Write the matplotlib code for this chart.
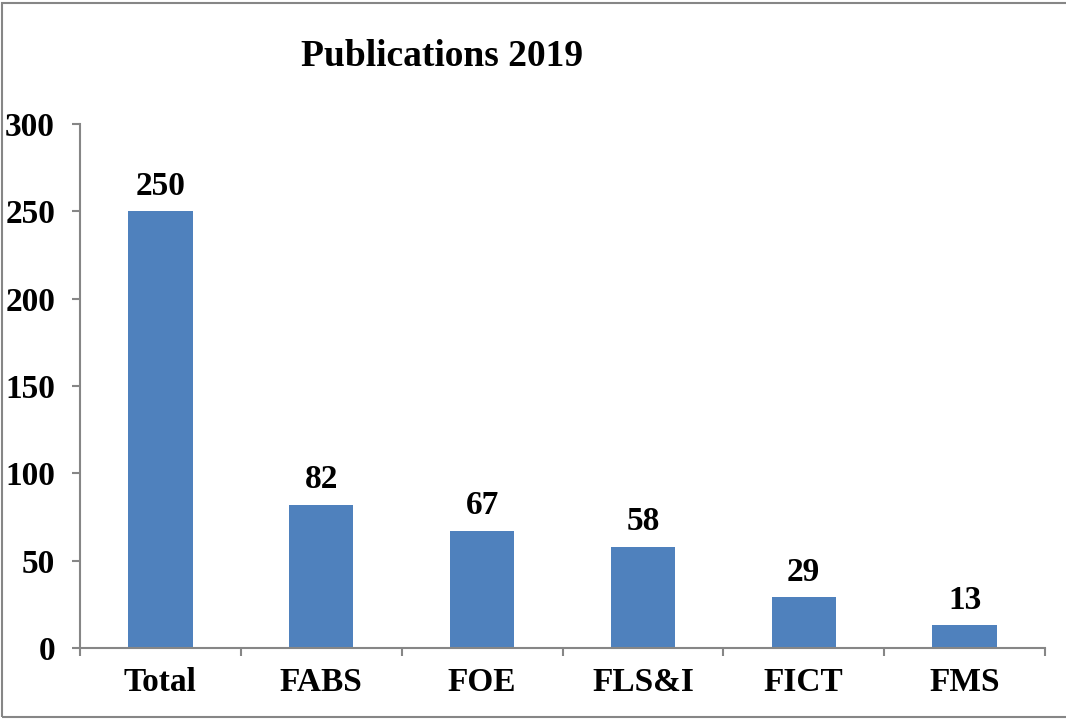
import matplotlib
matplotlib.use("Agg")
import matplotlib.pyplot as plt
from matplotlib.patches import Rectangle

categories = ["Total", "FABS", "FOE", "FLS&I", "FICT", "FMS"]
values = [250, 82, 67, 58, 29, 13]
yticks = [0, 50, 100, 150, 200, 250, 300]
title = "Publications 2019"

W, H = 1066, 719
fig = plt.figure(figsize=(W/100, H/100), dpi=100)
plt.rcParams['font.family'] = ['Liberation Serif', 'DejaVu Serif']

x0, x1 = 80, 1045
y0, y1 = 648, 124
ax = fig.add_axes([x0/W, 1-y0/H, (x1-x0)/W, (y0-y1)/H])

axc = "#868686"
fs = 24
xs = list(range(len(categories)))
ax.bar(xs, values, width=0.4, color="#4F81BD", zorder=2)
ax.set_xlim(-0.5, len(categories)-0.5)
ax.set_ylim(0, 300)
ax.set_yticks(yticks)
ax.set_yticklabels([str(t) for t in yticks], fontsize=fs, fontweight='bold')
ax.set_xticks(xs)
ax.set_xticklabels(categories, fontsize=fs, fontweight='bold')
ax.tick_params(axis='x', length=0, pad=14)
ax.tick_params(axis='y', length=6, width=1.5, color=axc, pad=12)
ax.set_xticks([i-0.5 for i in range(len(categories)+1)], minor=True)
ax.tick_params(axis='x', which='minor', length=6, width=1.5, color=axc)
for s in ['top', 'right']:
    ax.spines[s].set_visible(False)
for s in ['left', 'bottom']:
    ax.spines[s].set_color(axc)
    ax.spines[s].set_linewidth(1.5)

for x, v in zip(xs, values):
    ax.annotate(str(v), (x, v), xytext=(0, 7), textcoords='offset points',
                ha='center', va='bottom', fontsize=fs, fontweight='bold')

fig.text(442/W, 1-57/H, title, ha='center', va='center', fontsize=27, fontweight='bold')

fig.patches.append(Rectangle((2/W, 2/H), 1.2, 1-5/H, transform=fig.transFigure,
                             fill=False, edgecolor=axc, linewidth=1.5))

fig.savefig("out.png", dpi=100)
